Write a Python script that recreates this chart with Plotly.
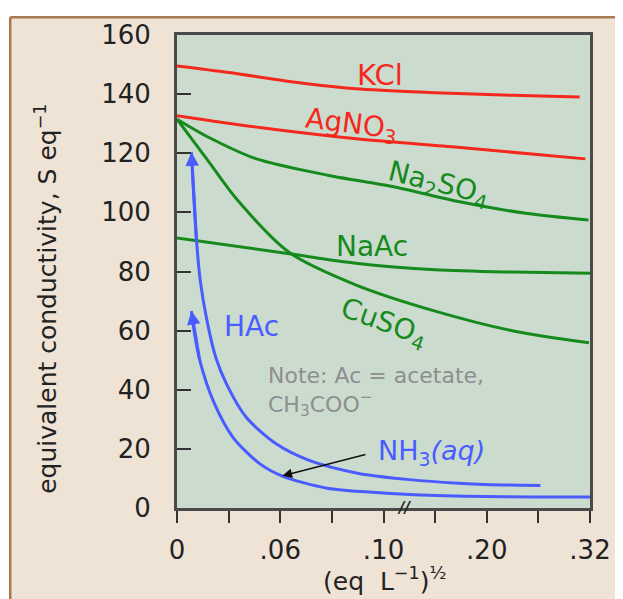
import plotly.graph_objects as go

# ---- data (x in axis-position units of the broken axis: 0..8, ticks every unit) ----
tick_pos = [0, 1, 2, 3, 4, 5, 6, 7, 8]
tick_text = ["0", "", ".06", "", ".10", "", ".20", "", ".32"]
y_ticks = [0, 20, 40, 60, 80, 100, 120, 140, 160]

kcl_x = [0, 1.0, 2.3, 3.46, 5.0, 6.5, 7.8]
kcl_y = [149.5, 147.3, 144.0, 141.8, 140.5, 139.6, 139.0]

agno3_x = [0, 1.6, 3.52, 5.44, 7.91]
agno3_y = [132.7, 128.7, 124.8, 122.0, 118.1]

na2so4_x = [0, 0.6, 1.54, 2.94, 4.22, 5.5, 6.79, 7.97]
na2so4_y = [131.5, 125.5, 118.1, 112.5, 108.6, 103.5, 99.6, 97.4]

cuso4_x = [0, 0.6, 1.15, 2.17, 3.46, 5.0, 6.54, 7.98]
cuso4_y = [131.5, 117.5, 104.6, 86.5, 75.5, 66.6, 59.8, 55.9]

naac_x = [0, 2.14, 3.46, 5.0, 6.5, 8.0]
naac_y = [91.3, 86.1, 82.8, 80.6, 79.8, 79.4]

hac_x = [0.28, 0.31, 0.38, 0.45, 0.57, 0.75, 0.96, 1.34, 1.92, 2.56, 3.52, 4.5, 5.44, 6.3, 7.04]
hac_y = [120.3, 110, 90, 77, 64.3, 51, 41.9, 30.7, 21.7, 16.1, 11.7, 9.6, 8.4, 7.8, 7.6]

nh3_x = [0.28, 0.33, 0.44, 0.7, 1.08, 1.6, 2.04, 2.88, 3.71, 4.6, 6.0, 8.05]
nh3_y = [66.6, 60, 50, 36.3, 24, 15, 10.8, 6.8, 5.4, 4.5, 3.9, 3.7]

RED = "#f5281e"
GREEN = "#178a1e"
BLUE = "#4a5cff"
GRAY = "#8e8e8e"
FONT = "DejaVu Sans"

fig = go.Figure()

series = [
    (kcl_x, kcl_y, RED),
    (agno3_x, agno3_y, RED),
    (na2so4_x, na2so4_y, GREEN),
    (cuso4_x, cuso4_y, GREEN),
    (naac_x, naac_y, GREEN),
    (hac_x, hac_y, BLUE),
    (nh3_x, nh3_y, BLUE),
]
for xs, ys, c in series:
    fig.add_trace(go.Scatter(x=xs, y=ys, mode="lines",
                             line=dict(color=c, width=3, shape="spline", smoothing=0.8),
                             hoverinfo="skip", showlegend=False, cliponaxis=False))

# curve labels: (text, x, y, color, size, angle, xanchor)
labels = [
    ("KCl", 3.94, 146.6, RED, 29, 0, "center"),
    ("AgNO<sub>3</sub>", 3.37, 129.5, RED, 28, 7, "center"),
    ("Na<sub>2</sub>SO<sub>4</sub>", 5.06, 109.5, GREEN, 28, 14, "center"),
    ("NaAc", 3.77, 88.4, GREEN, 28, 0, "center"),
    ("CuSO<sub>4</sub>", 4.0, 62.5, GREEN, 28, 20, "center"),
    ("HAc", 1.44, 61.5, BLUE, 28, 0, "center"),
    ("NH<sub>3</sub><i>(aq)</i>", 3.85, 18.8, BLUE, 27, 0, "left"),
    ("Note: Ac = acetate,<br>CH<sub>3</sub>COO<sup>−</sup>", 1.72, 39.5, GRAY, 22, 0, "left"),
]
annotations = []
for t, x, y, c, s, a, xa in labels:
    annotations.append(dict(text=t, x=x, y=y, xref="x", yref="y", showarrow=False,
                            font=dict(family=FONT, size=s, color=c), textangle=a,
                            xanchor=xa, yanchor="middle", align="left"))

# arrowheads on the tops of the blue curves
annotations.append(dict(x=hac_x[0], y=hac_y[0], ax=hac_x[2], ay=hac_y[2], xref="x", yref="y",
                        axref="x", ayref="y", text="", showarrow=True, arrowhead=2,
                        arrowsize=0.9, arrowwidth=3, arrowcolor=BLUE, standoff=0))
annotations.append(dict(x=nh3_x[0], y=nh3_y[0], ax=nh3_x[2], ay=nh3_y[2], xref="x", yref="y",
                        axref="x", ayref="y", text="", showarrow=True, arrowhead=2,
                        arrowsize=0.9, arrowwidth=3, arrowcolor=BLUE, standoff=0))
# black pointer arrow from NH3 label to its curve
annotations.append(dict(x=2.04, y=10.9, ax=3.68, ay=18.2, xref="x", yref="y",
                        axref="x", ayref="y", text="", showarrow=True, arrowhead=2,
                        arrowsize=1.3, arrowwidth=1.5, arrowcolor="#111", standoff=0))
# axis break marker
annotations.append(dict(text="<b><i>//</i></b>", x=4.4, y=0, xref="x", yref="y", showarrow=False,
                        font=dict(family=FONT, size=15, color="#222"), xanchor="center", yanchor="middle"))

# axis titles
annotations.append(dict(text="equivalent conductivity, S eq<sup>−1</sup>", x=-0.315, y=0.442,
                        xref="paper", yref="paper", showarrow=False, textangle=-90,
                        font=dict(family=FONT, size=25, color="#222"), xanchor="center", yanchor="middle"))
annotations.append(dict(text="(eq  L<sup>−1</sup>)<sup>½</sup>", x=0.502, y=-0.152,
                        xref="paper", yref="paper", showarrow=False,
                        font=dict(family=FONT, size=25, color="#222"), xanchor="center", yanchor="middle"))

shapes = [
    dict(type="rect", xref="paper", yref="paper", x0=-0.5, x1=1.2, y0=1.0377, y1=1.2,
         fillcolor="white", line=dict(width=0), layer="below"),
    dict(type="rect", xref="paper", yref="paper", x0=-0.5, x1=-0.4038, y0=-0.5, y1=1.2,
         fillcolor="white", line=dict(width=0), layer="below"),
    dict(type="line", xref="paper", yref="paper", x0=-0.4038, x1=1.2, y0=1.0377, y1=1.0377,
         line=dict(color="#a8784f", width=2.5), layer="below"),
    dict(type="line", xref="paper", yref="paper", x0=-0.4038, x1=-0.4038, y0=-0.5, y1=1.0377,
         line=dict(color="#a8784f", width=2.5), layer="below"),
]

fig.update_layout(
    width=615, height=591,
    margin=dict(l=169, r=30, t=23, b=91),
    paper_bgcolor="#eee3d5",
    plot_bgcolor="#cbdcce",
    annotations=annotations,
    shapes=shapes,
    showlegend=False,
    xaxis=dict(range=[0, 8], tickvals=tick_pos, ticktext=tick_text, ticks="outside",
               ticklen=12, tickwidth=2, tickcolor="#333", showgrid=False, zeroline=False,
               showline=True, mirror=True, linecolor="#4a4a4a", linewidth=3,
               tickfont=dict(family=FONT, size=26, color="#222"), ticklabelstandoff=5),
    yaxis=dict(range=[0, 160], tickvals=y_ticks, ticks="inside", ticklen=14, tickwidth=2,
               tickcolor="#333", showgrid=False, zeroline=False, showline=True, mirror=True,
               linecolor="#4a4a4a", linewidth=3,
               tickfont=dict(family=FONT, size=26, color="#222"), ticklabelstandoff=18),
)

fig.write_html("out.html")
